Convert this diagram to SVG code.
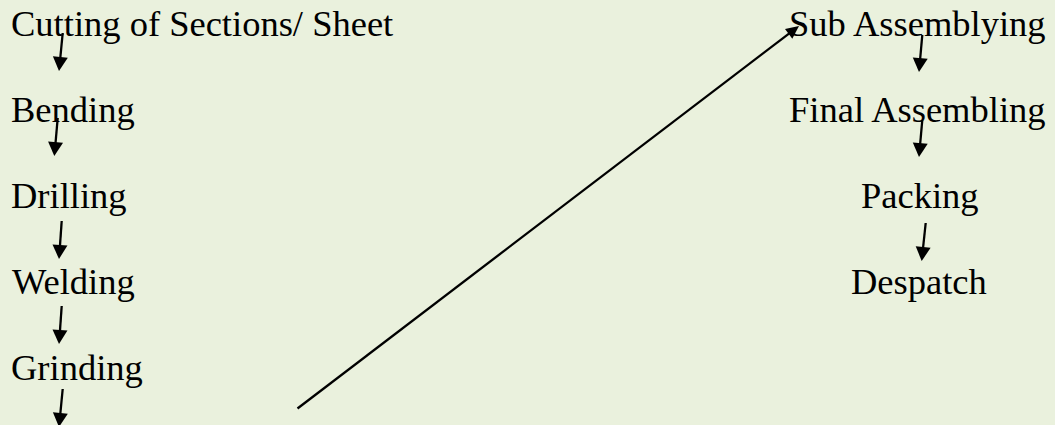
<svg xmlns="http://www.w3.org/2000/svg" width="1055" height="425" viewBox="0 0 1055 425">
<style>
.t{font-family:"Liberation Serif","Times New Roman",serif;font-size:36.5px;fill:#000}
.c{stroke:#000;stroke-width:2.3;fill:none}
.h{fill:#000}
</style>
<defs>
<path id="head" class="h" d="M0,0 L-7.5,-14 L7.5,-14 z"/>
<path id="head2" class="h" d="M0,0 L-6,-13 L6,-13 z"/>
</defs>
<rect width="1055" height="425" fill="#EAF1DD"/>
<g id="connectors">
<line class="c" x1="62.7" y1="33" x2="59.8" y2="63"/>
<use href="#head" transform="translate(59,71) rotate(5.56)"/>
<line class="c" x1="57.7" y1="118" x2="55.1" y2="148"/>
<use href="#head" transform="translate(54.3,156) rotate(5.11)"/>
<line class="c" x1="61.7" y1="221" x2="59.6" y2="251"/>
<use href="#head" transform="translate(59,259) rotate(4.06)"/>
<line class="c" x1="61.7" y1="306" x2="59.6" y2="336"/>
<use href="#head" transform="translate(59,344) rotate(4.06)"/>
<line class="c" x1="62.7" y1="389" x2="59.8" y2="419"/>
<use href="#head" transform="translate(59,427) rotate(5.56)"/>
<line class="c" x1="297.5" y1="408.5" x2="792.6" y2="30.8"/>
<use href="#head2" transform="translate(799,26) rotate(-127.3)"/>
<line class="c" x1="922.3" y1="35" x2="919.7" y2="64"/>
<use href="#head" transform="translate(919,72) rotate(5.1)"/>
<line class="c" x1="922.3" y1="120" x2="919.7" y2="149"/>
<use href="#head" transform="translate(919,157) rotate(5.1)"/>
<line class="c" x1="925.7" y1="223" x2="922.5" y2="253"/>
<use href="#head" transform="translate(921.7,261) rotate(6)"/>
</g>
<g id="n-cutting"><text class="t" x="11" y="36">Cutting of Sections/ Sheet</text></g>
<g id="n-bending"><text class="t" x="11" y="122">Bending</text></g>
<g id="n-drilling"><text class="t" x="11" y="208">Drilling</text></g>
<g id="n-welding"><text class="t" x="12" y="294">Welding</text></g>
<g id="n-grinding"><text class="t" x="11" y="380">Grinding</text></g>
<g id="n-sub"><text class="t" x="789" y="36">Sub Assemblying</text></g>
<g id="n-final"><text class="t" x="789" y="122">Final Assembling</text></g>
<g id="n-packing"><text class="t" x="861" y="208">Packing</text></g>
<g id="n-despatch"><text class="t" x="851" y="294">Despatch</text></g>
</svg>
